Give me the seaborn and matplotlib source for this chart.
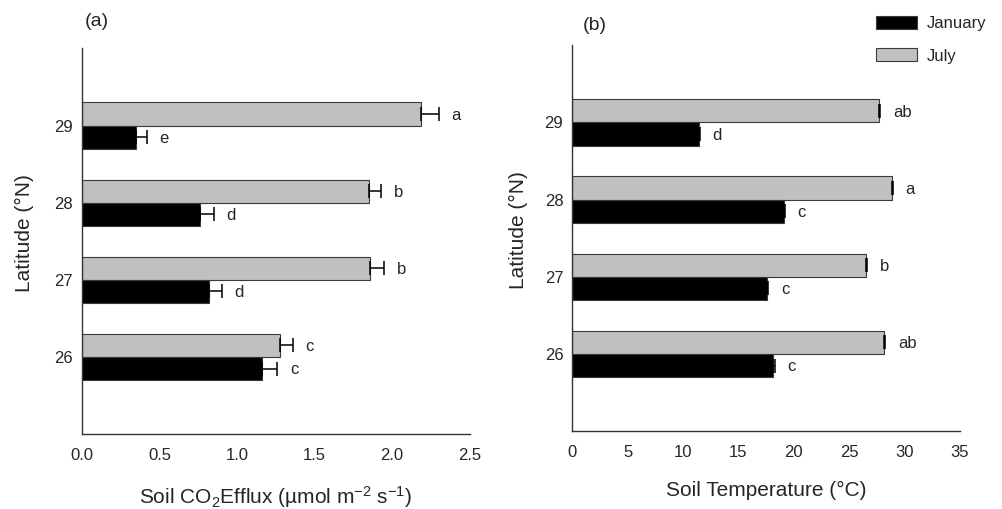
import numpy as np
import pandas as pd
import matplotlib
matplotlib.use("Agg")
import matplotlib.pyplot as plt
import seaborn as sns
from matplotlib.patches import Patch

sns.set_style("white")
plt.rcParams['font.family'] = ['Liberation Sans', 'DejaVu Sans']
plt.rcParams['mathtext.fontset'] = 'custom'
plt.rcParams['mathtext.rm'] = 'Liberation Sans'
plt.rcParams['mathtext.it'] = 'Liberation Sans:italic'

# ---- data ----
latitudes = [29, 28, 27, 26]
months = ["July", "January"]

efflux_july = [2.19, 1.85, 1.86, 1.28]
efflux_july_se = [0.11, 0.08, 0.09, 0.08]
efflux_jan = [0.35, 0.76, 0.82, 1.16]
efflux_jan_se = [0.07, 0.09, 0.08, 0.10]
efflux_july_letters = ["a", "b", "b", "c"]
efflux_jan_letters = ["e", "d", "d", "c"]

temp_july = [27.7, 28.85, 26.5, 28.15]
temp_july_se = [0.12, 0.12, 0.12, 0.12]
temp_jan = [11.4, 19.1, 17.6, 18.15]
temp_jan_se = [0.12, 0.12, 0.12, 0.12]
temp_july_letters = ["ab", "a", "b", "ab"]
temp_jan_letters = ["d", "c", "c", "c"]

efflux_ticks = [0.0, 0.5, 1.0, 1.5, 2.0, 2.5]
temp_ticks = [0, 5, 10, 15, 20, 25, 30, 35]

colors = {"July": "#c0c0c0", "January": "#000000"}

fig = plt.figure(figsize=(10.03, 5.09), dpi=100)
ax_a = fig.add_axes([0.0818, 0.147, 0.3863, 0.758])
ax_b = fig.add_axes([0.5706, 0.153, 0.3863, 0.758])


def panel(ax, july, july_se, jan, jan_se, jl, jnl, ticks, xlim, xlabel, ylab_x):
    df = pd.DataFrame({
        "Latitude": [str(l) for l in latitudes] * 2,
        "Month": ["July"] * 4 + ["January"] * 4,
        "value": list(july) + list(jan),
    })
    sns.barplot(data=df, x="value", y="Latitude", hue="Month",
                order=[str(l) for l in latitudes], hue_order=months,
                palette=colors, orient="h", width=0.6, gap=0,
                edgecolor="#3a3a3a", linewidth=0.8, errorbar=None,
                legend=False, ax=ax)
    pos = np.arange(len(latitudes))
    for vals, ses, letters, off in [(july, july_se, jl, -0.15), (jan, jan_se, jnl, 0.15)]:
        vals = np.array(vals); ses = np.array(ses)
        ax.errorbar(vals, pos + off, xerr=[np.zeros_like(ses), ses], fmt="none",
                    ecolor="black", elinewidth=1.1, capsize=5.2, capthick=1.1)
        for v, s, t, p in zip(vals, ses, letters, pos + off):
            ax.annotate(t, (v + s, p), xytext=(9, -1), textcoords="offset points",
                        ha="left", va="center", fontsize=12)
    ax.set_ylim(4.0, -1.0)
    ax.set_xlim(*xlim)
    ax.set_xticks(ticks)
    ax.set_xticklabels([f"{t:.1f}" if isinstance(t, float) else str(t) for t in ticks])
    sns.despine(ax=ax)
    for sp in ["left", "bottom"]:
        ax.spines[sp].set_color("#333333")
        ax.spines[sp].set_linewidth(1.0)
    ax.tick_params(axis="x", direction="in", length=5, width=0.8, color="#333333",
                   pad=10, labelsize=12)
    ax.tick_params(axis="y", length=0, pad=6.5, labelsize=12)
    ax.set_xlabel(xlabel, fontsize=15, labelpad=15)
    ax.set_ylabel("Latitude (°N)", fontsize=15)
    ax.yaxis.set_label_coords(ylab_x, 0.52)


panel(ax_a, efflux_july, efflux_july_se, efflux_jan, efflux_jan_se,
      efflux_july_letters, efflux_jan_letters, efflux_ticks, (0, 2.5),
      r"Soil CO$_2$Efflux (µmol m$^{-2}$ s$^{-1}$)", -0.125)
panel(ax_b, temp_july, temp_july_se, temp_jan, temp_jan_se,
      temp_july_letters, temp_jan_letters, temp_ticks, (0, 35),
      "Soil Temperature (°C)", -0.115)

fig.text(85 / 1003, 1 - 22 / 509, "(a)", fontsize=14, ha="left", va="center")
fig.text(583 / 1003, 1 - 26 / 509, "(b)", fontsize=14, ha="left", va="center")

handles = [Patch(facecolor=colors["January"], edgecolor="#3a3a3a", linewidth=0.8, label="January"),
           Patch(facecolor=colors["July"], edgecolor="#3a3a3a", linewidth=0.8, label="July")]
fig.legend(handles=handles, loc="upper left", bbox_to_anchor=(876 / 1003, 1 - 16 / 509),
           frameon=False, fontsize=12, handlelength=2.45, handleheight=0.85,
           handletextpad=0.6, labelspacing=1.0, borderpad=0, borderaxespad=0)

fig.savefig("out.png", dpi=100)
